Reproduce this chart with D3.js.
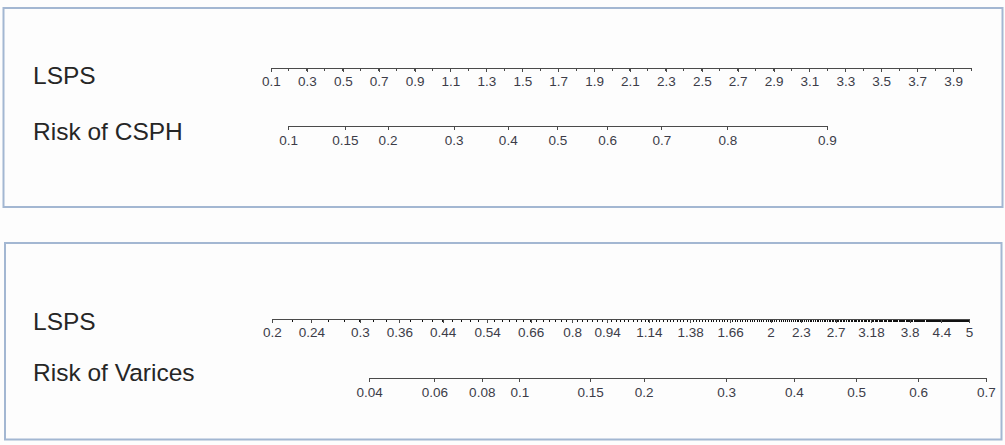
<!DOCTYPE html>
<html>
<head>
<meta charset="utf-8">
<script src="https://cdn.jsdelivr.net/npm/d3@7/dist/d3.min.js"></script>
<style>
  html, body { margin: 0; padding: 0; background: #fdfdfd; }
  svg { display: block; }
  .title { font-family: "Liberation Sans", Arial, sans-serif; font-size: 24.5px; fill: #262626; }
  .axis text { font-family: "Liberation Sans", Arial, sans-serif; font-size: 13.5px; fill: #3c3c48; }
  .axis path, .axis line { stroke: #4a4a4a; shape-rendering: crispEdges; }
</style>
</head>
<body>
<script>
// ---- Nomogram data ----
// CSPH model: logit(risk) = csphIntercept + csphSlope * LSPS
const csphLspsLabels = [0.1, 0.3, 0.5, 0.7, 0.9, 1.1, 1.3, 1.5, 1.7, 1.9, 2.1, 2.3, 2.5, 2.7, 2.9, 3.1, 3.3, 3.5, 3.7, 3.9];
const csphLspsDomain = [0.1, 4.0];
const csphLspsMinorStep = 0.1;
const csphRiskLabels = [0.1, 0.15, 0.2, 0.3, 0.4, 0.5, 0.6, 0.7, 0.8, 0.9];
const csphIntercept = -2.483;
const csphSlope = 1.464;

// Varices model: logit(risk) = varIntercept + varSlope * ln(LSPS)
const varLspsLabels = [0.2, 0.24, 0.3, 0.36, 0.44, 0.54, 0.66, 0.8, 0.94, 1.14, 1.38, 1.66, 2, 2.3, 2.7, 3.18, 3.8, 4.4, 5];
const varLspsDomain = [0.2, 5];
const varLspsMinorStep = 0.02;
const varRiskLabels = [0.04, 0.06, 0.08, 0.1, 0.15, 0.2, 0.3, 0.4, 0.5, 0.6, 0.7];
const varIntercept = -1.537;
const varSlope = 1.413;

const W = 1005, H = 445;
const logit = p => Math.log(p / (1 - p));

const svg = d3.select("body").append("svg").attr("width", W).attr("height", H);

// Panel frames
const panels = [
  { x: 3.5, y: 8, w: 999, h: 199 },
  { x: 5, y: 243, w: 996.5, h: 196.5 }
];
svg.selectAll("rect.frame").data(panels).join("rect")
  .attr("class", "frame")
  .attr("x", d => d.x).attr("y", d => d.y)
  .attr("width", d => d.w).attr("height", d => d.h)
  .attr("fill", "#fdfdfd")
  .attr("stroke", "#a3b7d2")
  .attr("stroke-width", 2);

// Row titles
const titles = [
  { text: "LSPS", x: 33, y: 84 },
  { text: "Risk of CSPH", x: 33, y: 140 },
  { text: "LSPS", x: 33, y: 330 },
  { text: "Risk of Varices", x: 33, y: 381 }
];
svg.selectAll("text.title").data(titles).join("text")
  .attr("class", "title")
  .attr("x", d => d.x).attr("y", d => d.y)
  .text(d => d.text);

// Draws a points axis with labelled ticks plus unlabelled minor ticks
function drawAxis(y, scale, labelValues, labelText, minorValues, pad, minorColor) {
  const g = svg.append("g").attr("class", "axis").attr("transform", `translate(0,${y})`);
  if (minorValues) {
    g.selectAll("line.minor").data(minorValues).join("line")
      .attr("class", "minor")
      .attr("x1", d => scale(d)).attr("x2", d => scale(d))
      .attr("y1", 0).attr("y2", 3)
      .style("stroke", minorColor).attr("stroke-width", 1);
  }
  const axis = d3.axisBottom(scale)
    .tickValues(labelValues)
    .tickFormat((d, i) => labelText[i])
    .tickSize(4)
    .tickSizeOuter(0)
    .tickPadding(pad);
  g.call(axis);
  return g;
}

// ---- CSPH panel ----
const xCsph = d3.scaleLinear().domain(csphLspsDomain).range([271, 971]);
const csphMinor = d3.range(Math.round((csphLspsDomain[1] - csphLspsDomain[0]) / csphLspsMinorStep) + 1)
  .map(i => +(csphLspsDomain[0] + i * csphLspsMinorStep).toFixed(2));
drawAxis(67.5, xCsph, csphLspsLabels, csphLspsLabels.map(String), csphMinor, 5, "#4a4a4a");

// Risk axis: logit scale placed on the LSPS scale through the model
const cspLsps = p => (logit(p) - csphIntercept) / csphSlope;
const cspLo = logit(csphRiskLabels[0]), cspHi = logit(csphRiskLabels[csphRiskLabels.length - 1]);
const xCsphRisk = d3.scaleLinear()
  .domain([cspLo, cspHi])
  .range([xCsph(cspLsps(csphRiskLabels[0])), xCsph(cspLsps(csphRiskLabels[csphRiskLabels.length - 1]))]);
drawAxis(126, xCsphRisk, csphRiskLabels.map(logit), csphRiskLabels.map(String), null, 5);

// ---- Varices panel ----
const xVar = d3.scaleLog().domain(varLspsDomain).range([272, 969]);
const varMinor = d3.range(Math.round((varLspsDomain[1] - varLspsDomain[0]) / varLspsMinorStep) + 1)
  .map(i => +(varLspsDomain[0] + i * varLspsMinorStep).toFixed(2));
drawAxis(319, xVar, varLspsLabels, varLspsLabels.map(String), varMinor, 4, "#111");

const varLsps = p => Math.exp((logit(p) - varIntercept) / varSlope);
const varLo = logit(varRiskLabels[0]), varHi = logit(varRiskLabels[varRiskLabels.length - 1]);
const xVarRisk = d3.scaleLinear()
  .domain([varLo, varHi])
  .range([xVar(varLsps(varRiskLabels[0])), xVar(varLsps(varRiskLabels[varRiskLabels.length - 1]))]);
drawAxis(378, xVarRisk, varRiskLabels.map(logit), varRiskLabels.map(String), null, 5);
</script>
</body>
</html>
